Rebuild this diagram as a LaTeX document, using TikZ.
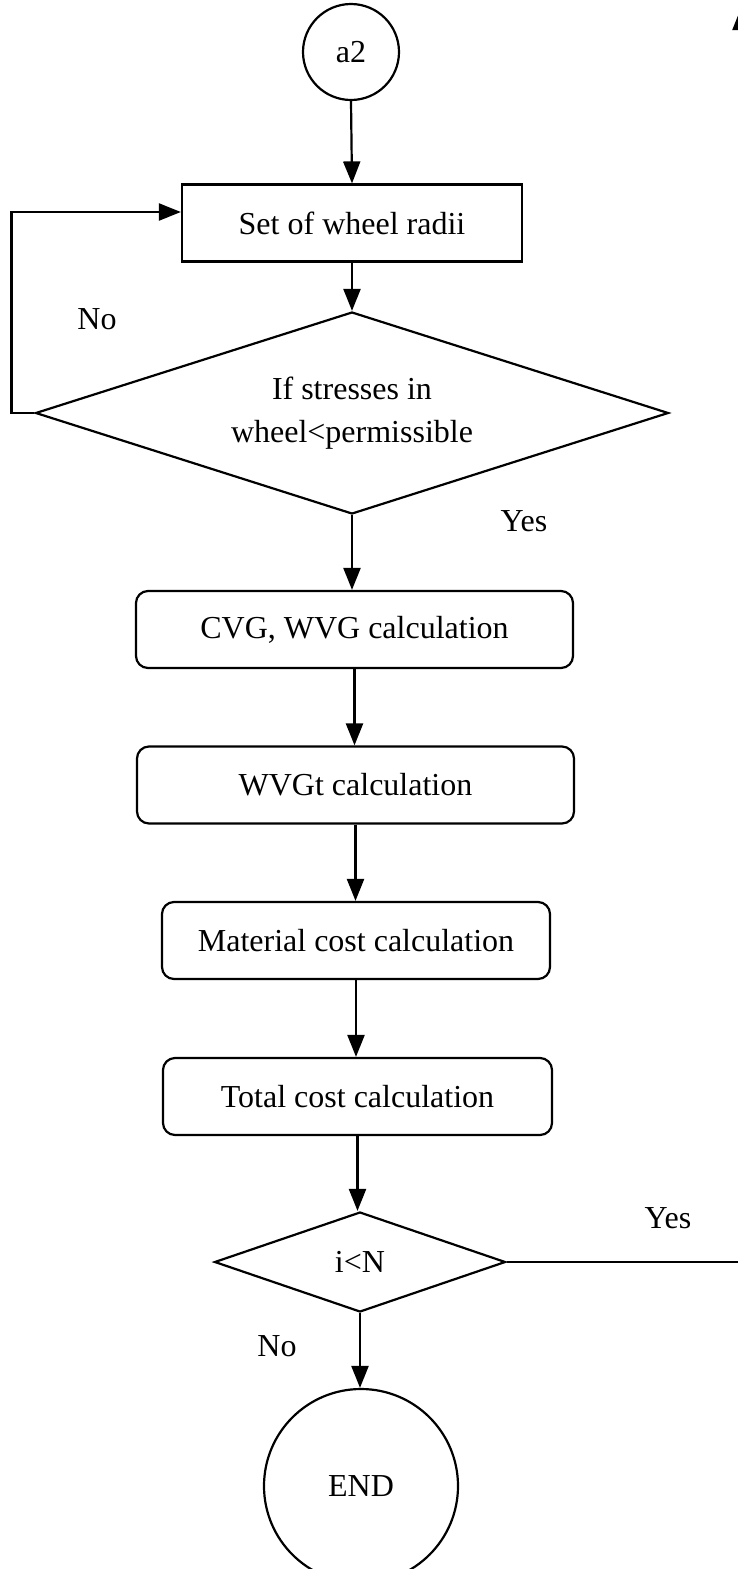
\documentclass[tikz,border=0pt]{standalone}
\usepackage{fontspec}
\setmainfont{Liberation Serif}
\usetikzlibrary{shapes.geometric,arrows.meta}
\tikzset{
  base/.style={draw, line width=2.2pt, inner sep=0pt, align=center,
    font=\fontsize{32}{38}\selectfont},
  term/.style={base, circle},
  procbox/.style={base, rectangle},
  roundbox/.style={base, rectangle, rounded corners=12pt},
  decide/.style={base, diamond},
  lbl/.style={inner sep=0pt, font=\fontsize{32}{38}\selectfont},
  arr/.style={line width=2.2pt, -{Triangle[length=22pt,width=17pt]}},
}
\begin{document}
\begin{tikzpicture}[x=1pt, y=-1pt]
\useasboundingbox (0,0) rectangle (738,1569);
\clip (0,0) rectangle (738,1569);

% start connector and process chain
\node[term, minimum size=96pt] (start) at (351,52) {a2};
\node[procbox, minimum width=340pt, minimum height=77pt] (radii) at (352,223) {Set of wheel radii};
\node[decide, aspect=3.1, minimum width=633pt, minimum height=202pt] (stress) at (352,413)
  {If stresses in\\[5pt]wheel<permissible};
\node[roundbox, minimum width=437pt, minimum height=77pt] (cvg) at (354.5,629.5) {CVG, WVG calculation};
\node[roundbox, minimum width=437pt, minimum height=77pt] (wvgt) at (355.5,785) {WVGt calculation};
\node[roundbox, minimum width=388pt, minimum height=77pt] (mat) at (356,940.5) {Material cost calculation};
\node[roundbox, minimum width=389pt, minimum height=77pt] (tot) at (357.5,1096.5) {Total cost calculation};
\node[decide, aspect=2.9, minimum width=291pt, minimum height=100pt] (loop) at (360,1262) {i<N};
\node[term, minimum size=194pt] (stop) at (361,1486) {END};

% branch labels
\node[lbl] (noA) at (97,319) {No};
\node[lbl] (yesA) at (524,521) {Yes};
\node[lbl] (yesB) at (668,1218) {Yes};
\node[lbl] (noB) at (277,1346) {No};

% connectors
\draw[arr] (start.south) -- (radii.north);
\draw[arr] (radii.south) -- (stress.north);
\draw[arr] (stress.west) -- ++(-23,0) |- ([yshift=11pt]radii.west);
\draw[arr] (stress.south) -- (stress.south |- cvg.north);
\draw[arr] (cvg.south) -- (cvg.south |- wvgt.north);
\draw[arr] (wvgt.south) -- (wvgt.south |- mat.north);
\draw[arr] (mat.south) -- (mat.south |- tot.north);
\draw[arr] (tot.south) -- (tot.south |- loop.north);
\draw[arr] (loop.south) -- (loop.south |- stop.north);
\coordinate (back) at (741,8);
\draw[arr] (loop.east) -| (back);
\end{tikzpicture}
\end{document}
